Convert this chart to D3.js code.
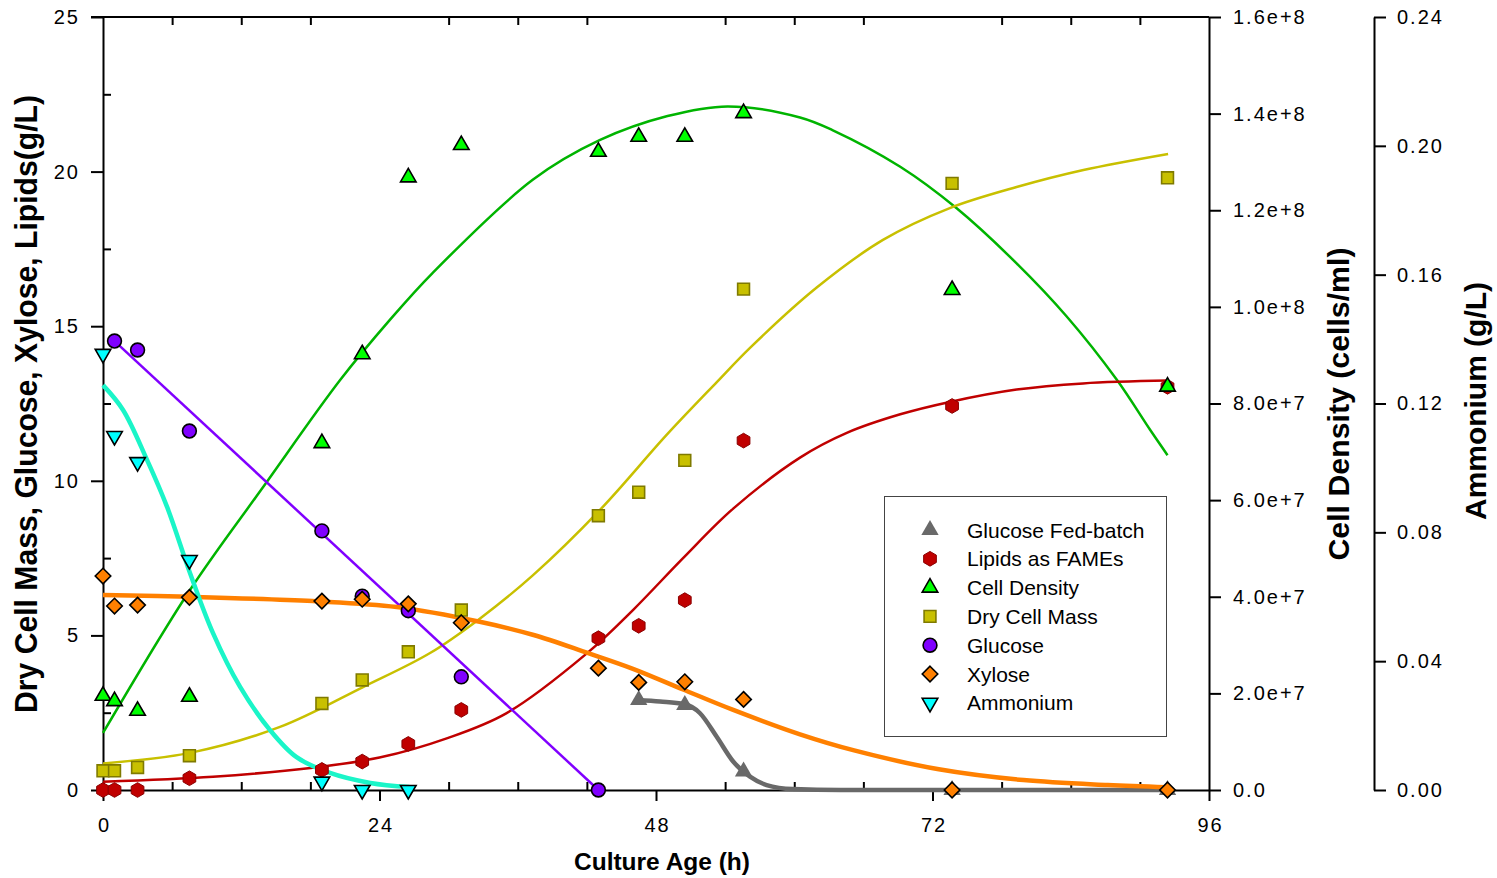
<!DOCTYPE html>
<html>
<head>
<meta charset="utf-8">
<script src="https://cdn.jsdelivr.net/npm/d3@7"></script>
<style>
  body { margin: 0; background: #fff; }
  svg text { font-family: 'Liberation Sans', Arial, sans-serif; fill: #000; }
</style>
</head>
<body>
<div id="chart"></div>
<script>
// sampling times (h)
const hours = [0, 1, 3, 7.5, 19, 22.5, 26.5, 31.1, 43, 46.5, 50.5, 55.6, 73.7, 92.4];

// measured points, null = not measured
const glucoseFedBatch = [null, null, null, null, null, null, null, null, null, 2.91, 2.75, 0.6, 0, 0];
const lipids = [0, 0, 0, 0.38, 0.65, 0.92, 1.49, 2.59, 4.91, 5.31, 6.14, 11.30, 12.42, 13.04];
const cellDensity = [1.95e7, 1.84e7, 1.64e7, 1.93e7, 7.18e7, 9.02e7, 1.268e8, 1.335e8, 1.321e8, 1.352e8, 1.352e8, 1.401e8, 1.035e8, 8.35e7];
const dryCellMass = [0.62, 0.62, 0.73, 1.11, 2.80, 3.56, 4.47, 5.82, 8.87, 9.63, 10.66, 16.2, 19.62, 19.80];
const glucose = [null, 14.52, 14.23, 11.61, 8.38, 6.27, 5.80, 3.66, 0, null, null, null, null, null];
const xylose = [6.92, 5.95, 5.98, 6.23, 6.11, 6.17, 6.02, 5.41, 3.94, 3.48, 3.50, 2.93, 0, 0];
const ammonium = [0.1354, 0.1099, 0.1018, 0.0714, 0.0026, 0, 0, null, null, null, null, null, null, null];

// fitted curves, [h, value]
const fedBatchFit = [[46.44, 2.91], [48.35, 2.86], [50.43, 2.78], [51.8, 2.49], [53.27, 1.72], [54.7, 0.92], [56.16, 0.43], [57.6, 0.16], [59.9, 0.03], [64, 0], [92.4, 0]];
const lipidsFit = [[0, 0.27], [9.55, 0.43], [18.2, 0.72], [24, 1.05], [29.9, 1.68], [35, 2.48], [42, 4.42], [46, 5.82], [50.35, 7.5], [54.7, 9.1], [60.5, 10.75], [64.56, 11.55], [69.2, 12.15], [73.5, 12.55], [79.3, 12.95], [85.07, 13.15], [92.45, 13.24]];
const cellDensityFit = [[0, 1.18e7], [7.55, 4.14e7], [13.9, 6.27e7], [20.6, 8.49e7], [24.9, 9.73e7], [28.6, 1.07e8], [37.3, 1.263e8], [43.1, 1.345e8], [49, 1.395e8], [54.2, 1.415e8], [60.5, 1.392e8], [63.4, 1.365e8], [69.2, 1.29e8], [74.1, 1.204e8], [79.3, 1.09e8], [83.65, 9.8e7], [88, 8.49e7], [90.9, 7.45e7], [92.4, 6.93e7]];
const dryCellMassFit = [[0, 0.86], [7.55, 1.2], [15.36, 2.04], [22.57, 3.33], [28.39, 4.43], [32.73, 5.55], [37.33, 6.95], [43.14, 9.06], [48.96, 11.5], [53.3, 13.2], [56.16, 14.3], [61.95, 16.25], [67.7, 17.79], [73.5, 18.82], [79.3, 19.5], [85.1, 20.05], [92.45, 20.57]];
const glucoseFit = [[1, 14.52], [43, 0]];
const xyloseFit = [[0, 6.31], [7.55, 6.25], [18.2, 6.11], [25.5, 5.92], [32.7, 5.44], [37.3, 5.02], [42, 4.44], [46, 3.92], [50.35, 3.25], [54.7, 2.59], [60.5, 1.8], [65.2, 1.28], [72.55, 0.67], [79.9, 0.32], [87.2, 0.16], [92.3, 0.09]];
const ammoniumFit = [[0, 0.1257], [1.74, 0.118], [3.82, 0.1025], [5.56, 0.0879], [7.55, 0.0674], [9.55, 0.0487], [11.9, 0.032], [14.5, 0.0186], [16.8, 0.0102], [19.7, 0.0053], [23.2, 0.0022], [26.6, 0.0009]];

// axis ticks
const xMajor = [0, 24, 48, 72, 96];
const xMinor = [6, 12, 18, 30, 36, 42, 54, 60, 66, 78, 84, 90];
const leftMajor = [0, 5, 10, 15, 20, 25];
const leftMinor = [2.5, 7.5, 12.5, 17.5, 22.5];
const cellTicks = [0, 2e7, 4e7, 6e7, 8e7, 1e8, 1.2e8, 1.4e8, 1.6e8];
const ammoniumTicks = [0, 0.04, 0.08, 0.12, 0.16, 0.20, 0.24];

const width = 1497;
const height = 878;

const svg = d3.select('#chart').append('svg')
  .attr('width', width)
  .attr('height', height);

const x = d3.scaleLinear().domain([0, 96]).range([103, 1209]);
const yLeft = d3.scaleLinear().domain([0, 25]).range([790, 17]);
const yCell = d3.scaleLinear().domain([0, 1.6e8]).range([790, 17]);
const yAmm = d3.scaleLinear().domain([0, 0.24]).range([790, 17]);

// custom symbols
const symbolHexagon = {
  draw(ctx, size) {
    const r = Math.sqrt(2 * size / (3 * Math.sqrt(3)));
    for (let k = 0; k < 6; k++) {
      const a = -Math.PI / 2 + k * Math.PI / 3;
      if (k === 0) ctx.moveTo(r * Math.cos(a), r * Math.sin(a));
      else ctx.lineTo(r * Math.cos(a), r * Math.sin(a));
    }
    ctx.closePath();
  }
};
const symbolRhomb = {
  draw(ctx, size) {
    const r = Math.sqrt(size / 2);
    ctx.moveTo(0, -r);
    ctx.lineTo(r, 0);
    ctx.lineTo(0, r);
    ctx.lineTo(-r, 0);
    ctx.closePath();
  }
};

const smooth = d3.curveCatmullRom.alpha(0.5);

const series = [
  { name: 'Glucose Fed-batch', values: glucoseFedBatch, fit: fedBatchFit, y: yLeft, type: d3.symbolTriangle, size: 130, rot: 0, fill: '#696969', stroke: 'none', sw: 0, line: '#696969', lw: 4.5, curve: d3.curveMonotoneX },
  { name: 'Lipids as FAMEs', values: lipids, fit: lipidsFit, y: yLeft, type: symbolHexagon, size: 140, rot: 0, fill: '#c00000', stroke: '#8a0000', sw: 1, line: '#c00000', lw: 2.5, curve: smooth },
  { name: 'Cell Density', values: cellDensity, fit: cellDensityFit, y: yCell, type: d3.symbolTriangle, size: 105, rot: 0, fill: '#00ff00', stroke: '#000', sw: 1.6, line: '#00b400', lw: 2.5, curve: smooth },
  { name: 'Dry Cell Mass', values: dryCellMass, fit: dryCellMassFit, y: yLeft, type: d3.symbolSquare, size: 140, rot: 0, fill: '#c8c000', stroke: '#7f7a00', sw: 1.6, line: '#c8c000', lw: 2.5, curve: smooth },
  { name: 'Glucose', values: glucose, fit: glucoseFit, y: yLeft, type: d3.symbolCircle, size: 150, rot: 0, fill: '#8000ff', stroke: '#000', sw: 1.6, line: '#8000ff', lw: 2.5, curve: d3.curveLinear },
  { name: 'Xylose', values: xylose, fit: xyloseFit, y: yLeft, type: symbolRhomb, size: 120, rot: 0, fill: '#ff8000', stroke: '#000', sw: 1.6, line: '#ff8000', lw: 4.5, curve: smooth },
  { name: 'Ammonium', values: ammonium, fit: ammoniumFit, y: yAmm, type: d3.symbolTriangle, size: 105, rot: 180, fill: '#00ffff', stroke: '#000', sw: 1.6, line: '#1af5c8', lw: 4.5, curve: smooth },
];
const byName = Object.fromEntries(series.map(s => [s.name, s]));
const lineOrder = ['Cell Density', 'Dry Cell Mass', 'Lipids as FAMEs', 'Glucose', 'Glucose Fed-batch', 'Xylose', 'Ammonium'];

// axes
function styleAxis(g) {
  g.attr('font-family', null).attr('font-size', null);
  g.selectAll('path.domain').attr('stroke', '#000').attr('stroke-width', 2);
  g.selectAll('.tick line').attr('stroke', '#000').attr('stroke-width', 2);
  g.selectAll('.tick text')
    .style('font-family', "'Liberation Sans', Arial, sans-serif")
    .style('font-size', '20px')
    .style('letter-spacing', '2px')
    .attr('fill', '#000');
}

// top border
svg.append('line')
  .attr('x1', 91).attr('x2', 1209)
  .attr('y1', 17).attr('y2', 17)
  .attr('stroke', '#000').attr('stroke-width', 2);
svg.append('g')
  .attr('transform', 'translate(0,17)')
  .call(d3.axisBottom(x).tickValues(xMinor).tickSize(8).tickFormat(''))
  .call(g => g.select('.domain').remove())
  .call(styleAxis);

svg.append('g')
  .attr('transform', 'translate(103,0)')
  .call(d3.axisLeft(yLeft).tickValues(leftMajor).tickSize(12).tickSizeOuter(0).tickPadding(11))
  .call(styleAxis);
svg.append('g')
  .attr('transform', 'translate(103,0)')
  .call(d3.axisRight(yLeft).tickValues(leftMinor).tickSize(8).tickFormat(''))
  .call(g => g.select('.domain').remove())
  .call(styleAxis);

svg.append('g')
  .attr('transform', 'translate(0,790)')
  .call(d3.axisBottom(x).tickValues(xMajor).tickSize(11).tickSizeOuter(0).tickPadding(17)
    .tickFormat(d3.format('d')))
  .call(styleAxis)
  .call(g => g.selectAll('.tick text').attr('dx', '1px'));
svg.append('g')
  .attr('transform', 'translate(0,790)')
  .call(d3.axisTop(x).tickValues(xMinor).tickSize(8).tickFormat(''))
  .call(g => g.select('.domain').remove())
  .call(styleAxis);

svg.append('g')
  .attr('transform', 'translate(1209,0)')
  .call(d3.axisRight(yCell).tickValues(cellTicks).tickSize(12).tickSizeOuter(0).tickPadding(12)
    .tickFormat(d => d === 0 ? '0.0' : d.toExponential(1)))
  .call(styleAxis);

svg.append('g')
  .attr('transform', 'translate(1374,0)')
  .call(d3.axisRight(yAmm).tickValues(ammoniumTicks).tickSize(12).tickSizeOuter(0).tickPadding(11)
    .tickFormat(d3.format('.2f')))
  .call(styleAxis);

// fitted lines
const plot = svg.append('g');
lineOrder.forEach(name => {
  const s = byName[name];
  const line = d3.line()
    .x(d => x(d[0]))
    .y(d => s.y(d[1]))
    .curve(s.curve);
  plot.append('path')
    .datum(s.fit)
    .attr('d', line)
    .attr('fill', 'none')
    .attr('stroke', s.line)
    .attr('stroke-width', s.lw)
    .attr('stroke-linejoin', 'round')
    .attr('stroke-linecap', 'butt');
});

// markers
series.forEach(s => {
  const pts = hours.map((h, i) => ({ h, v: s.values[i] })).filter(d => d.v !== null);
  plot.append('g').selectAll('path')
    .data(pts)
    .enter().append('path')
    .attr('d', d3.symbol().type(s.type).size(s.size))
    .attr('transform', d => `translate(${x(d.h)},${s.y(d.v)}) rotate(${s.rot})`)
    .attr('fill', s.fill)
    .attr('stroke', s.stroke)
    .attr('stroke-width', s.sw);
});

// legend
const legend = svg.append('g');
legend.append('rect')
  .attr('x', 884.5).attr('y', 496.5)
  .attr('width', 282).attr('height', 240)
  .attr('fill', '#fff')
  .attr('stroke', '#444')
  .attr('stroke-width', 1);
const legendG = legend.selectAll('.legend')
  .data(series)
  .enter().append('g')
  .attr('class', 'legend')
  .attr('transform', (d, i) => `translate(930,${530 + i * 28.8})`);
legendG.append('path')
  .attr('d', d => d3.symbol().type(d.type).size(d.size)())
  .attr('transform', d => `rotate(${d.rot})`)
  .attr('fill', d => d.fill)
  .attr('stroke', d => d.stroke)
  .attr('stroke-width', d => d.sw);
legendG.append('text')
  .text(d => d.name)
  .attr('x', 37)
  .attr('dy', '0.36em')
  .style('font-size', '21px');

// axis titles
function title(txt, cx, cy, rot, size, len) {
  svg.append('text')
    .attr('transform', `translate(${cx},${cy}) rotate(${rot})`)
    .attr('text-anchor', 'middle')
    .attr('dy', '0.35em')
    .attr('textLength', len)
    .attr('lengthAdjust', 'spacingAndGlyphs')
    .style('font-family', "'Liberation Sans Narrow', 'Arial Narrow', 'Liberation Sans', Arial, sans-serif")
    .style('font-weight', 'bold')
    .style('font-size', `${size}px`)
    .text(txt);
}
title('Dry Cell Mass, Glucose, Xylose, Lipids(g/L)', 26, 404, -90, 31, 618);
title('Cell Density (cells/ml)', 1339, 404, -90, 29, 313);
title('Ammonium (g/L)', 1476, 401, -90, 29, 238);
title('Culture Age (h)', 662, 862, 0, 24, 176);
</script>
</body>
</html>
